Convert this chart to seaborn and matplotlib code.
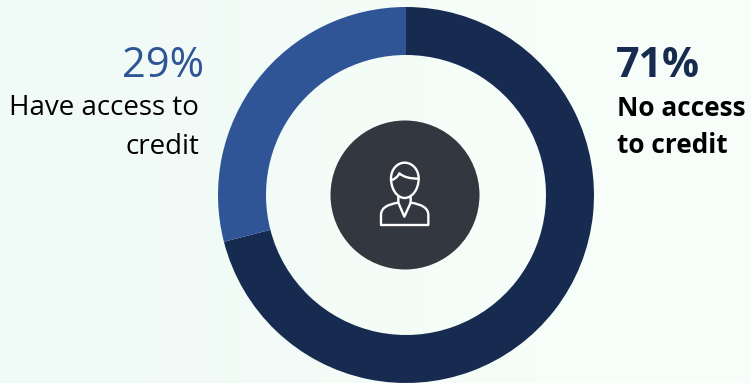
import numpy as np
import matplotlib
matplotlib.use("Agg")
import matplotlib.pyplot as plt
from matplotlib.patches import Circle, PathPatch
from matplotlib.path import Path
import seaborn as sns

sns.set_theme(style="white")
plt.rcParams["font.family"] = ["Open Sans", "DejaVu Sans"]

# Share of people by access to credit
categories = ["No access to credit", "Have access to credit"]
shares = [71, 29]
ring_colors = ["#172B51", "#2F5597"]

W, H = 751, 383
fig = plt.figure(figsize=(W / 100, H / 100), dpi=100)
ax = fig.add_axes([0, 0, 1, 1])

# Soft mint wash across the slide
wash = np.zeros((2, 2, 3))
left, right = np.array([240, 250, 246]) / 255, np.array([248, 255, 250]) / 255
wash[:, 0], wash[:, 1] = left, right
ax.imshow(wash, extent=(0, W, 0, H), aspect="auto", interpolation="bicubic", zorder=0)

cx, cy = 406, H - 195
ax.pie(shares, colors=ring_colors, startangle=90, counterclock=False,
       center=(cx, cy), radius=188, wedgeprops=dict(width=48, linewidth=0),
       frame=True)
ax.set_xlim(0, W)
ax.set_ylim(0, H)
ax.set_aspect("auto")
ax.axis("off")

# Dark disc holding the person icon
ax.add_patch(Circle((405, H - 195), 74.5, fc="#333740", ec="none", zorder=3))


def px(x, y):
    """Convert icon design coordinates (3 units per pixel) to axis coordinates."""
    return 320 + x / 3, H - (110 + y / 3)


def stroke(points, codes):
    path = Path([px(*p) for p in points], codes)
    ax.add_patch(PathPatch(path, fc="none", ec="white", lw=1.7, zorder=4,
                           capstyle="round", joinstyle="round"))


M, L, C3, C4 = Path.MOVETO, Path.LINETO, Path.CURVE3, Path.CURVE4
# Head
stroke([(213, 205), (213, 178), (232, 158), (254, 158),
        (276, 158), (296, 178), (296, 205),
        (296, 240), (275, 264), (254, 264),
        (233, 264), (213, 240), (213, 205)],
       [M] + [C4] * 12)
# Hair parting
stroke([(216, 210), (232, 204), (238, 190), (255, 206), (295, 206)],
       [M, C3, C3, C3, C3])
# Neck, collar and shoulders
stroke([(235, 258), (235, 278), (253, 320), (272, 278), (272, 258)], [M, L, L, L, L])
stroke([(235, 278), (183, 285), (183, 315), (183, 345), (325, 345), (325, 315),
        (325, 285), (272, 278)],
       [M, C3, C3, L, L, L, C3, C3])

ax.text(204, H - 77, "29%", ha="right", va="baseline", fontsize=30, color=ring_colors[1], zorder=5)
ax.text(199, H - 115, "Have access to", ha="right", va="baseline", fontsize=20, color="black", zorder=5)
ax.text(199, H - 154, "credit", ha="right", va="baseline", fontsize=20, color="black", zorder=5)

ax.text(616, H - 77, "71%", ha="left", va="baseline", fontsize=29.6, fontweight="bold", color=ring_colors[0], zorder=5)
ax.text(617, H - 116, "No access", ha="left", va="baseline", fontsize=18.9, fontweight="bold", color="black", zorder=5)
ax.text(617, H - 153, "to credit", ha="left", va="baseline", fontsize=18.9, fontweight="bold", color="black", zorder=5)

fig.savefig("out.png", dpi=100)
